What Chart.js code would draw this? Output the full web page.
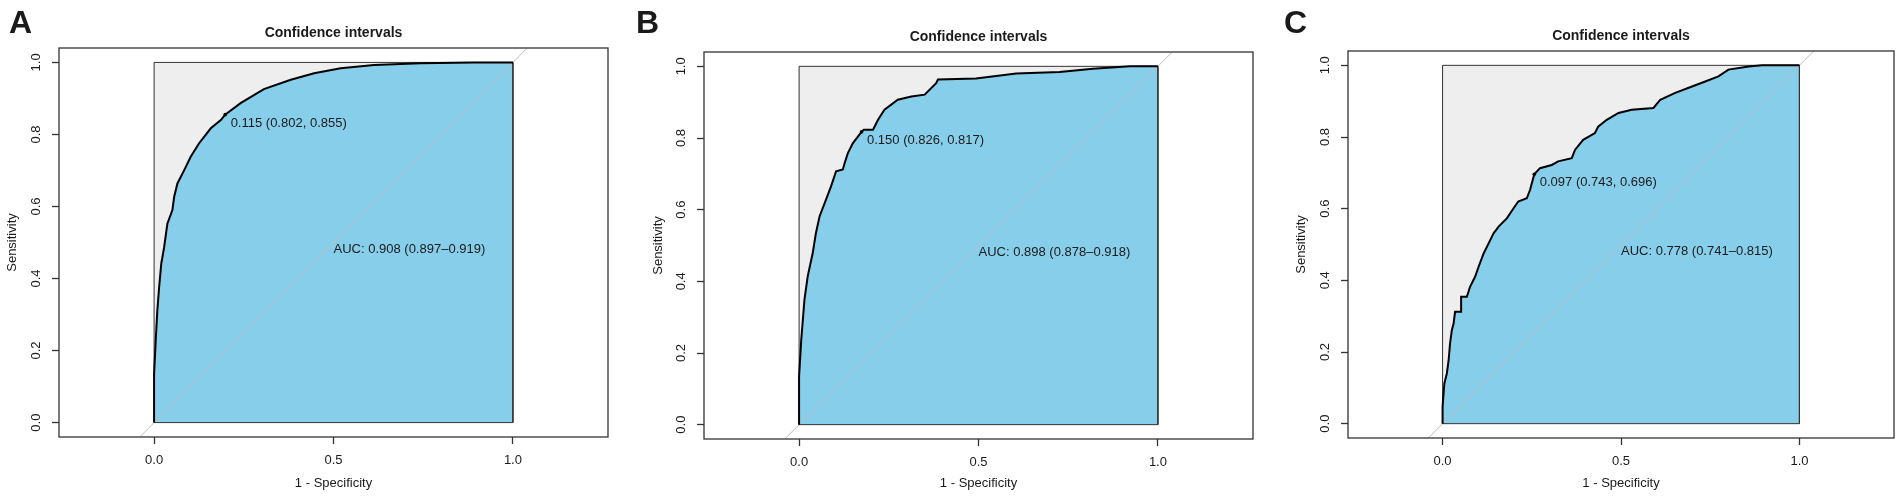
<!DOCTYPE html>
<html>
<head>
<meta charset="utf-8">
<script src="https://cdn.jsdelivr.net/npm/chart.js@4.4.1/dist/chart.umd.min.js"></script>
<style>
  html, body { margin: 0; padding: 0; background: #fff; overflow: hidden; }
  body { width: 1902px; height: 500px; position: relative; }
  canvas { position: absolute; top: 0; }
</style>
</head>
<body>
<canvas id="rocA" width="634" height="500" style="left:0px"></canvas>
<canvas id="rocB" width="634" height="500" style="left:634px"></canvas>
<canvas id="rocC" width="634" height="500" style="left:1268px"></canvas>
<script>
// --- Data ---
const panelLetters = ["A", "B", "C"];
const panelTitle = "Confidence intervals";
const xTitle = "1 - Specificity";
const yTitle = "Sensitivity";
const xTicks = [0, 0.5, 1];
const yTicks = [0, 0.2, 0.4, 0.6, 0.8, 1.0];

// threshold point: 1 - specificity, sensitivity
const thresholdFpr = [0.198, 0.174, 0.257];
const thresholdTpr = [0.855, 0.817, 0.696];
const thresholdLabels = ["0.115 (0.802, 0.855)", "0.150 (0.826, 0.817)", "0.097 (0.743, 0.696)"];
const aucLabels = ["AUC: 0.908 (0.897\u20130.919)", "AUC: 0.898 (0.878\u20130.918)", "AUC: 0.778 (0.741\u20130.815)"];

// ROC curves
const fprA = [0, 0, 0.005, 0.009, 0.014, 0.020, 0.028, 0.037, 0.051, 0.056, 0.065, 0.084, 0.102, 0.125, 0.158, 0.186, 0.198, 0.241, 0.306, 0.381, 0.446, 0.520, 0.613, 0.743, 0.891, 1];
const tprA = [0, 0.135, 0.237, 0.311, 0.375, 0.441, 0.487, 0.552, 0.590, 0.627, 0.664, 0.701, 0.738, 0.775, 0.817, 0.840, 0.855, 0.887, 0.926, 0.952, 0.970, 0.984, 0.993, 0.998, 1.0, 1];

const fprB = [0, 0, 0.006, 0.015, 0.024, 0.038, 0.047, 0.057, 0.075, 0.089, 0.103, 0.122, 0.127, 0.136, 0.150, 0.174, 0.180, 0.206, 0.220, 0.238, 0.275, 0.313, 0.350, 0.382, 0.387, 0.493, 0.605, 0.726, 0.819, 0.922, 1];
const tprB = [0, 0.135, 0.237, 0.349, 0.414, 0.479, 0.535, 0.581, 0.628, 0.665, 0.707, 0.712, 0.730, 0.758, 0.786, 0.817, 0.823, 0.823, 0.851, 0.879, 0.907, 0.916, 0.921, 0.953, 0.963, 0.966, 0.980, 0.984, 0.993, 1.0, 1];

const fprC = [0, 0, 0.005, 0.012, 0.017, 0.021, 0.026, 0.031, 0.035, 0.052, 0.052, 0.068, 0.077, 0.091, 0.101, 0.115, 0.129, 0.143, 0.157, 0.180, 0.199, 0.212, 0.236, 0.245, 0.257, 0.273, 0.306, 0.324, 0.362, 0.371, 0.394, 0.427, 0.436, 0.460, 0.493, 0.530, 0.591, 0.610, 0.652, 0.699, 0.736, 0.773, 0.801, 0.858, 0.895, 1];
const tprC = [0, 0.047, 0.112, 0.140, 0.177, 0.224, 0.261, 0.280, 0.312, 0.312, 0.354, 0.354, 0.382, 0.410, 0.438, 0.475, 0.503, 0.531, 0.550, 0.573, 0.601, 0.620, 0.629, 0.652, 0.696, 0.713, 0.722, 0.732, 0.741, 0.764, 0.792, 0.811, 0.829, 0.848, 0.867, 0.876, 0.881, 0.904, 0.923, 0.941, 0.955, 0.969, 0.988, 0.997, 1.0, 1];

const curves = [[fprA, tprA], [fprB, tprB], [fprC, tprC]];

// --- Layout per panel (pixels inside each canvas) ---
const layouts = [
  { id: "rocA", axisW: 59, top: 48, bottom: 437, right: 26, letterX: 9, yTitleX: 12.5 },
  { id: "rocB", axisW: 70, top: 52, bottom: 439, right: 15, letterX: 2, yTitleX: 24 },
  { id: "rocC", axisW: 80, top: 51, bottom: 438, right: 8, letterX: 16, yTitleX: 33 },
];

const FONT = "'Liberation Sans', Arial, sans-serif";
const INK = "#1a1a1a";
const BOX = "#333333";

// --- Plugin: frame, titles and labels ---
const rocDecor = {
  id: "rocDecor",
  afterDraw(chart, args, opts) {
    const { ctx, chartArea: a, scales } = chart;
    const i = opts.panel;
    ctx.save();
    // plot frame
    ctx.strokeStyle = BOX;
    ctx.lineWidth = 1.3;
    ctx.strokeRect(a.left, a.top, a.right - a.left, a.bottom - a.top);

    ctx.fillStyle = INK;
    // panel letter
    ctx.font = "bold 32px " + FONT;
    ctx.textAlign = "left";
    ctx.textBaseline = "alphabetic";
    ctx.fillText(panelLetters[i], layouts[i].letterX, 33);

    // main title
    ctx.font = "bold 14px " + FONT;
    ctx.textAlign = "center";
    ctx.textBaseline = "middle";
    ctx.fillText(panelTitle, (a.left + a.right) / 2, a.top - 15);

    // threshold label
    ctx.font = "13px " + FONT;
    ctx.textAlign = "left";
    const px = scales.x.getPixelForValue(thresholdFpr[i]);
    const py = scales.y.getPixelForValue(thresholdTpr[i]);
    ctx.fillText(thresholdLabels[i], px + 5.5, py + 8.5);

    // AUC label
    const ax = scales.x.getPixelForValue(0.5);
    const ay = scales.y.getPixelForValue(0.5);
    ctx.fillText(aucLabels[i], ax, ay + 7);
    ctx.restore();
  },
};

function makeChart(i) {
  const L = layouts[i];
  const [fpr, tpr] = curves[i];
  const curve = fpr.map((x, k) => ({ x, y: tpr[k] }));

  new Chart(document.getElementById(L.id), {
    type: "line",
    data: {
      datasets: [
        {
          // threshold point
          data: [{ x: thresholdFpr[i], y: thresholdTpr[i] }],
          showLine: false,
          pointRadius: 1.8,
          pointBackgroundColor: "#000",
          pointBorderWidth: 0,
        },
        {
          // ROC curve
          data: curve,
          borderColor: "#000",
          borderWidth: 2,
          pointRadius: 0,
          fill: false,
        },
        {
          // outline of max AUC square
          data: [{ x: 0, y: 0 }, { x: 0, y: 1 }, { x: 1, y: 1 }, { x: 1, y: 0 }, { x: 0, y: 0 }],
          borderColor: BOX,
          borderWidth: 1,
          pointRadius: 0,
          fill: false,
        },
        {
          // chance diagonal
          data: [{ x: -0.4, y: -0.4 }, { x: 1.4, y: 1.4 }],
          borderColor: "#bdbdbd",
          borderWidth: 1,
          pointRadius: 0,
          fill: false,
        },
        {
          // AUC polygon
          data: curve,
          borderColor: "rgba(0,0,0,0)",
          borderWidth: 0,
          pointRadius: 0,
          backgroundColor: "#87ceeb",
          fill: { value: 0 },
        },
        {
          // max AUC polygon
          data: [{ x: 0, y: 1 }, { x: 1, y: 1 }],
          borderColor: "rgba(0,0,0,0)",
          borderWidth: 0,
          pointRadius: 0,
          backgroundColor: "#eeeeee",
          fill: { value: 0 },
        },
      ],
    },
    options: {
      responsive: false,
      animation: false,
      events: [],
      layout: { padding: { left: 0, top: L.top, right: L.right, bottom: 0 } },
      elements: { line: { tension: 0 } },
      plugins: {
        legend: { display: false },
        tooltip: { enabled: false },
        rocDecor: { panel: i },
      },
      scales: {
        x: {
          type: "linear",
          min: -0.265,
          max: 1.265,
          afterBuildTicks: (s) => { s.ticks = xTicks.map((v) => ({ value: v })); },
          afterFit: (s) => { s.height = 500 - L.bottom; },
          border: { display: false },
          grid: { drawOnChartArea: false, drawTicks: true, tickLength: 7, tickColor: BOX, tickWidth: 1.3 },
          ticks: {
            padding: 9,
            color: INK,
            font: { family: FONT, size: 13 },
            maxRotation: 0,
            autoSkip: false,
            callback: (v) => Number(v).toFixed(1),
          },
          title: {
            display: true,
            text: xTitle,
            color: INK,
            font: { family: FONT, size: 13 },
            padding: { top: 0, bottom: 9.2 },
          },
        },
        y: {
          type: "linear",
          min: -0.04,
          max: 1.04,
          afterBuildTicks: (s) => { s.ticks = yTicks.map((v) => ({ value: v })); },
          afterFit: (s) => { s.width = L.axisW; },
          border: { display: false },
          grid: { drawOnChartArea: false, drawTicks: true, tickLength: 7, tickColor: BOX, tickWidth: 1.3 },
          ticks: {
            padding: 6.5,
            color: INK,
            crossAlign: "center",
            minRotation: 90,
            maxRotation: 90,
            autoSkip: false,
            font: { family: FONT, size: 13 },
            callback: (v) => Number(v).toFixed(1),
          },
          title: {
            display: true,
            text: yTitle,
            color: INK,
            font: { family: FONT, size: 13 },
            padding: { top: L.yTitleX - 7.8, bottom: 0 },
          },
        },
      },
    },
    plugins: [rocDecor],
  });
}

[0, 1, 2].forEach(makeChart);
</script>
</body>
</html>
